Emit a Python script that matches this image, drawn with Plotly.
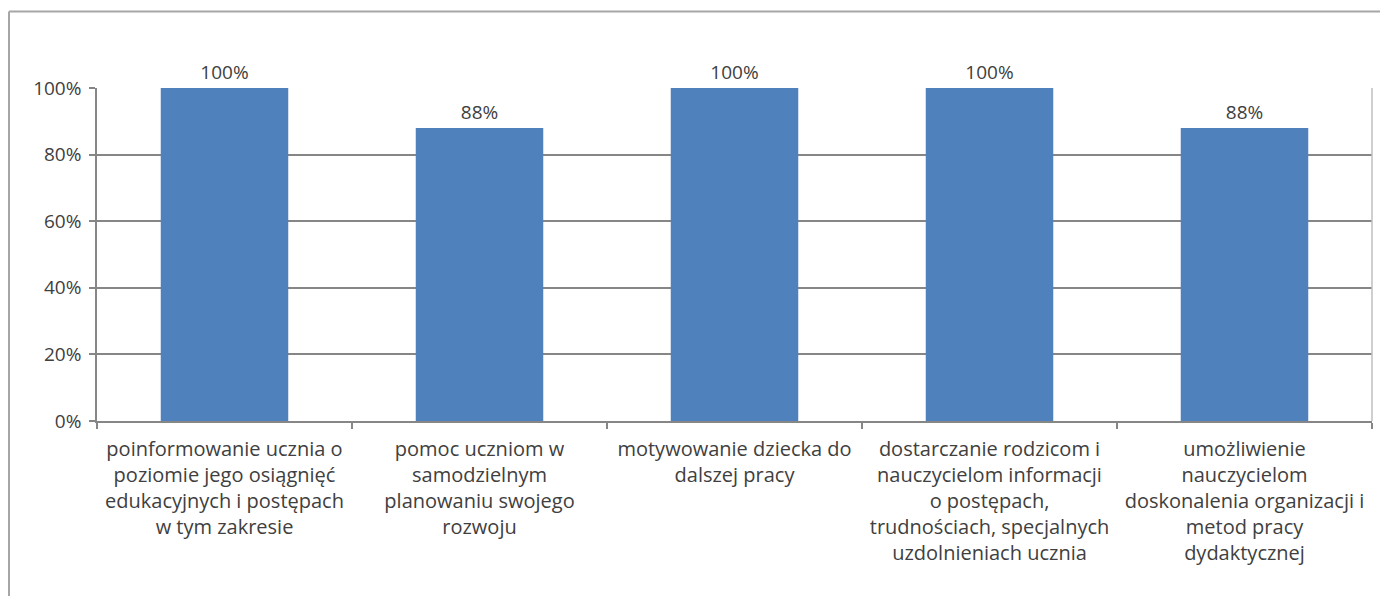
import plotly.graph_objects as go

categories = [
    "poinformowanie ucznia o<br>poziomie jego osiągnięć<br>edukacyjnych i postępach<br>w tym zakresie",
    "pomoc uczniom w<br>samodzielnym<br>planowaniu swojego<br>rozwoju",
    "motywowanie dziecka do<br>dalszej pracy",
    "dostarczanie rodzicom i<br>nauczycielom informacji<br>o postępach,<br>trudnościach, specjalnych<br>uzdolnieniach ucznia",
    "umożliwienie<br>nauczycielom<br>doskonalenia organizacji i<br>metod pracy<br>dydaktycznej",
]
values = [1.00, 0.88, 1.00, 1.00, 0.88]
labels = ["100%", "88%", "100%", "100%", "88%"]

FONT = "Open Sans"
TXT = "#404040"
GRID = "#868686"
FS = 19

fig = go.Figure(go.Bar(
    x=categories, y=values, width=0.5,
    marker=dict(color="#4F81BD", line=dict(width=0)),
    text=labels, textposition="outside", cliponaxis=False,
    textfont=dict(family=FONT, size=FS, color=TXT),
))

# page has an 8px body margin: figure starts at (8, 8)
fig.update_layout(
    width=1380, height=588,
    margin=dict(l=89, r=16, t=80, b=175),
    paper_bgcolor="white", plot_bgcolor="white",
    showlegend=False, bargap=0.5,
    font=dict(family=FONT, size=FS, color=TXT),
)
fig.update_yaxes(
    range=[0, 1], tickvals=[0, 0.2, 0.4, 0.6, 0.8, 1.0],
    ticktext=["0%", "20%", "40%", "60%", "80%", "100%"],
    showgrid=True, gridcolor=GRID, gridwidth=1.5,
    showline=True, linecolor=GRID, linewidth=1.5,
    ticks="outside", ticklen=6, tickcolor=GRID, tickwidth=1.5,
    zeroline=False, tickfont=dict(family=FONT, size=FS, color=TXT),
    ticklabelstandoff=4,
)
fig.update_xaxes(
    showline=True, linecolor=GRID, linewidth=1.5,
    ticks="outside", ticklen=6, tickcolor=GRID, tickwidth=1.5,
    tickson="boundaries", tickangle=0,
    tickfont=dict(family=FONT, size=20, color=TXT),
    ticklabelstandoff=9,
)
# right plot border (light) and outer chart border
fig.add_shape(type="line", xref="paper", yref="paper", x0=1, x1=1, y0=0, y1=1,
              line=dict(color="#BFBFBF", width=1.5))
fig.add_shape(type="line", xref="paper", yref="paper",
              x0=(9 - 97) / 1275, x1=1.02, y0=(421 - 11.5) / 333, y1=(421 - 11.5) / 333,
              line=dict(color="#A6A6A6", width=2))
fig.add_shape(type="line", xref="paper", yref="paper",
              x0=(9 - 97) / 1275, x1=(9 - 97) / 1275, y0=(421 - 11.5) / 333, y1=-0.6,
              line=dict(color="#A6A6A6", width=2))

fig.write_html("out.html")
